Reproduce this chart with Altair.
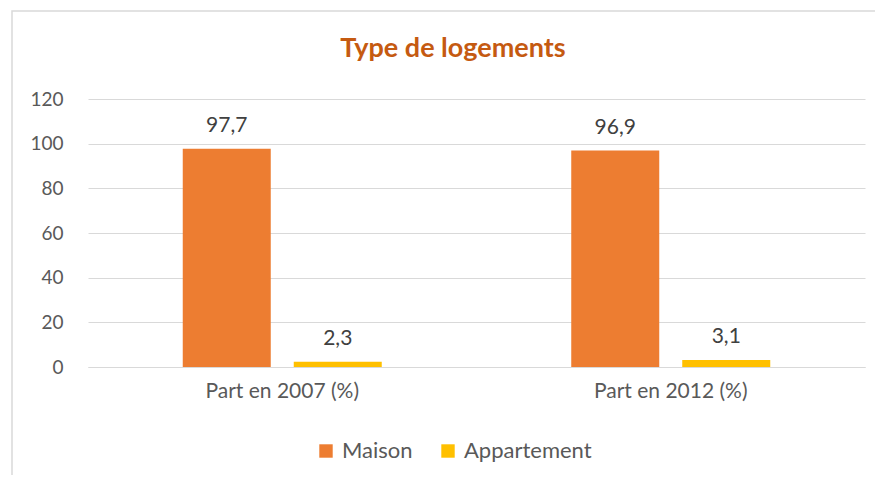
import altair as alt
import pandas as pd

categories = ["Part en 2007 (%)", "Part en 2007 (%)", "Part en 2012 (%)", "Part en 2012 (%)"]
series = ["Maison", "Appartement", "Maison", "Appartement"]
values = [97.7, 2.3, 96.9, 3.1]
title_text = "Type de logements"

df = pd.DataFrame({"cat": categories, "type": series, "value": values})

FONT = "Lato"
order = ["Maison", "Appartement"]
colors = ["#ED7D31", "#FFC000"]

base = alt.Chart(df)

bars = base.mark_bar().encode(
    x=alt.X("cat:N", title=None, sort=None,
            scale=alt.Scale(paddingInner=0, paddingOuter=0),
            axis=alt.Axis(labelAngle=0, labelFontSize=21, labelColor="#595959",
                          labelFont=FONT, ticks=False, domainColor="#d9d9d9",
                          labelPadding=13, domainWidth=1)),
    xOffset=alt.XOffset("type:N", sort=order,
                        scale=alt.Scale(paddingInner=0.2072, paddingOuter=0.8536)),
    y=alt.Y("value:Q", title=None,
            scale=alt.Scale(domain=[0, 120]),
            axis=alt.Axis(values=[0, 20, 40, 60, 80, 100, 120], grid=True,
                          gridColor="#d9d9d9", domain=False, ticks=False,
                          labelFontSize=19, labelColor="#595959", labelFont=FONT,
                          labelPadding=25)),
    color=alt.Color("type:N", sort=order,
                    scale=alt.Scale(domain=order, range=colors),
                    legend=alt.Legend(title=None, orient="none", direction="horizontal",
                                      legendX=227, legendY=341,
                                      symbolType="square", symbolSize=180,
                                      symbolStrokeWidth=0,
                                      labelFontSize=22, labelColor="#595959",
                                      labelFont=FONT, columnPadding=24,
                                      labelOffset=5)),
)

labels = base.mark_text(dy=-13, baseline="bottom", fontSize=21, color="#404040",
                        font=FONT).transform_calculate(
    lab="replace(format(datum.value, '.1f'), '.', ',')"
).encode(
    x=alt.X("cat:N", sort=None),
    xOffset=alt.XOffset("type:N", sort=order),
    y="value:Q",
    text="lab:N",
)

frame = alt.Chart(pd.DataFrame({"a": [0]})).mark_rect(
    fill=None, stroke="#d9d9d9", strokeWidth=1.5
).encode(
    x=alt.value(-76), x2=alt.value(830), y=alt.value(-88), y2=alt.value(430)
)

title = alt.Chart(pd.DataFrame({"t": [title_text]})).mark_text(
    fontSize=27, font=FONT, fontWeight="bold", color="#C55A11",
    align="center", baseline="middle"
).encode(x=alt.value(365), y=alt.value(-50), text="t:N")

chart = alt.layer(frame, title, bars, labels).properties(
    width=777, height=268,
    autosize=alt.AutoSizeParams(type="none"),
    padding={"left": 80, "top": 91, "right": 10, "bottom": 108},
).configure_view(stroke=None)

chart.save("out.html", embed_options={"renderer": "svg", "actions": False})
